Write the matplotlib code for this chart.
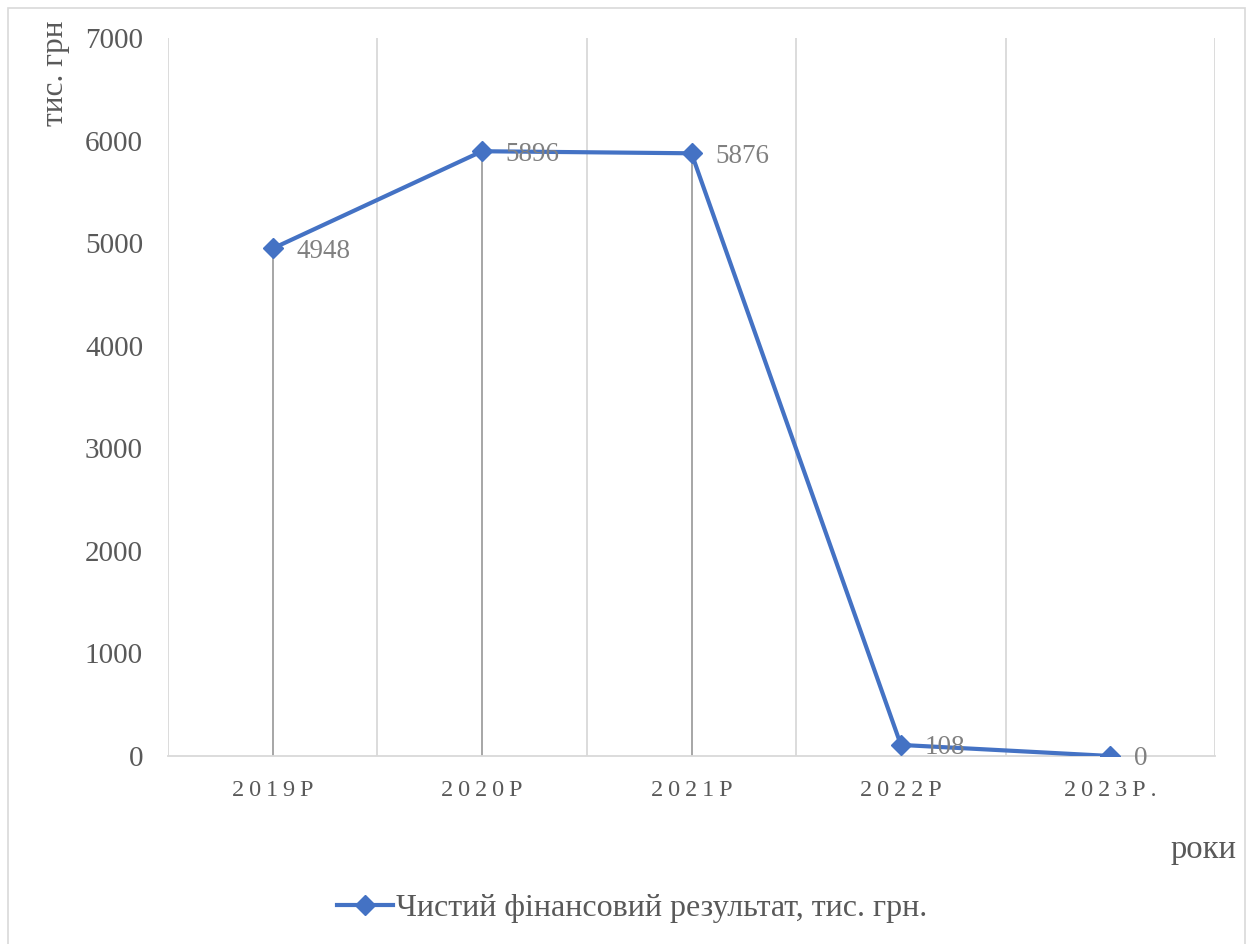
import matplotlib
matplotlib.use("Agg")
import matplotlib.pyplot as plt
from matplotlib.patches import Rectangle

plt.rcParams['font.family'] = ['Liberation Serif', 'DejaVu Serif']

years = ["2019Р", "2020Р", "2021Р", "2022Р", "2023Р."]
net_result = [4948, 5896, 5876, 108, 0]
series_name = "Чистий фінансовий результат, тис. грн."
y_label = "тис. грн"
x_label = "роки"
y_ticks = [0, 1000, 2000, 3000, 4000, 5000, 6000, 7000]

TEXT = "#595959"
LINE = "#4472C4"
GRID = "#D9D9D9"
DROP = "#A6A6A6"
LABEL = "#808080"

fig = plt.figure(figsize=(12.51, 9.44), dpi=100)
fig.patches.append(Rectangle((8 / 1251, -0.05), (1245 - 8) / 1251, 1 + 0.05 - 8 / 944,
                             transform=fig.transFigure, fill=False,
                             edgecolor=GRID, linewidth=1.2))

ax = fig.add_axes([168 / 1251, 1 - 756 / 944, (1215 - 168) / 1251, (756 - 38) / 944])
x = list(range(len(years)))

# vertical grid on category boundaries
for b in [i - 0.5 for i in range(len(years) + 1)]:
    ax.axvline(b, color=GRID, linewidth=1.3, zorder=0)

# drop lines from each point to the axis
ax.vlines(x, 0, net_result, colors=DROP, linewidth=1.4, zorder=1)

ax.plot(x, net_result, color=LINE, linewidth=3, marker='D', markersize=10,
        label=series_name, zorder=3)

for xi, v in zip(x, net_result):
    ax.annotate(f"{v}", (xi, v), xytext=(17, -2), textcoords='offset points',
                ha='left', va='center', fontsize=19.5, color=LABEL, zorder=4)

ax.set_xlim(-0.5, len(years) - 0.5)
ax.set_ylim(0, 7000)
ax.set_yticks(y_ticks)
ax.set_yticklabels([str(t) for t in y_ticks])
ax.set_xticks(x)
ax.set_xticklabels(["\u2009".join(list(y)) for y in years])

for s in ['left', 'right', 'top']:
    ax.spines[s].set_visible(False)
ax.spines['bottom'].set_color(GRID)
ax.spines['bottom'].set_linewidth(1.3)

ax.tick_params(axis='y', length=0, pad=18, labelsize=21, labelcolor=TEXT)
ax.tick_params(axis='x', length=0, pad=17, labelsize=17.5, labelcolor=TEXT)

fig.text(56 / 1251, 1 - 20 / 944, y_label, rotation=90, ha='center', va='top',
         fontsize=22.5, color=TEXT)
fig.text(1237 / 1251, 1 - 850 / 944, x_label, ha='right', va='center',
         fontsize=23.5, color=TEXT)

leg = fig.legend(loc='center', bbox_to_anchor=(632 / 1251, 1 - 908 / 944),
                 frameon=False, fontsize=23, handlelength=1.75, handletextpad=0.1,
                 labelcolor=TEXT)

fig.savefig("out.png", dpi=100, facecolor='white')
